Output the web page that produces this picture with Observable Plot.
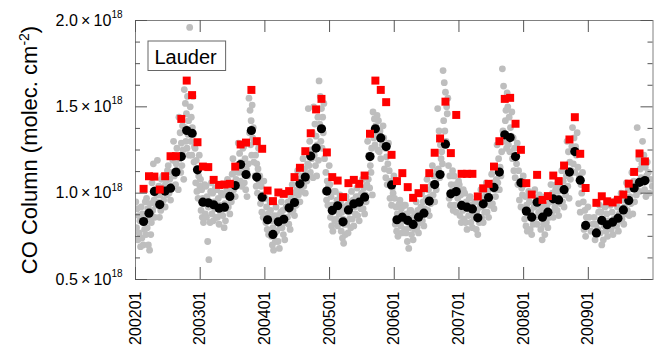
<!DOCTYPE html>
<html>
<head>
<meta charset="utf-8">
<script src="https://cdn.jsdelivr.net/npm/d3@7"></script>
<script src="https://cdn.jsdelivr.net/npm/@observablehq/plot@0.6"></script>
<style>
  html, body { margin: 0; padding: 0; background: white; }
  svg { display: block; }
</style>
</head>
<body>
<script>
// ---- data (CO total column, units of 1e18 molec. cm^-2), Jan 2002 .. Dec 2009 ----
const firstYear = 2002;
const siteName = "Lauder";
const yAxisTitle = "CO Column (molec. cm";
const yAxisTitleSup = "-2";
const yTicksMajor = [0.5, 1.0, 1.5, 2.0];
const yTickLabels = ["0.5\u2009×\u200910", "1.0\u2009×\u200910", "1.5\u2009×\u200910", "2.0\u2009×\u200910"];
const yTickExponent = "18";
const yTicksMinor = [0.625, 0.75, 0.875, 1.125, 1.25, 1.375, 1.625, 1.75, 1.875];
const xTicks = [2002, 2003, 2004, 2005, 2006, 2007, 2008, 2009];
const xTickLabels = ["200201", "200301", "200401", "200501", "200601", "200701", "200801", "200901"];

// monthly mean of the measurements (black circles)
const obsMonthly = [
  null, 0.836, 0.884, 1.010, 0.934, 1.012, 1.029, 1.122, 1.212, 1.363, 1.347, 1.135,
  0.948, 0.944, 0.933, 0.913, 0.919, 0.981, 1.044, 1.166, 1.108, 1.363, 1.093, 0.977,
  0.846, 0.761, 0.834, 0.849, 0.915, 0.946, 1.054, 1.093, 1.215, 1.261, 1.373, 1.012,
  0.900, 0.927, 0.834, 0.903, 0.938, 0.948, 0.977, 1.212, 1.373, 1.320, 1.270, 1.048,
  0.846, 0.861, 0.842, 0.819, 0.861, 0.884, 0.954, 1.050, 1.108, 1.284, 0.996, 1.009,
  0.929, 0.919, 0.909, 0.857, 0.938, 0.975, 1.033, 1.122, 1.338, 1.322, 1.212, 1.060,
  0.896, 0.861, 0.948, 0.861, 0.890, 0.967, 0.961, 1.020, 1.122, 1.241, 1.075, 0.813,
  null, 0.770, 0.842, 0.817, 0.832, 0.855, 0.903, 0.958, 1.030, 1.063, 1.073, null
];

// monthly model values (red squares)
const modelMonthly = [
  null, 1.025, 1.098, 1.096, 1.021, 1.098, 1.214, 1.214, 1.430, 1.652, 1.568, 1.295,
  1.154, 1.151, 1.077, 1.048, 1.050, 1.054, 1.154, 1.282, 1.293, 1.598, 1.301, 1.257,
  1.015, 0.954, 1.004, 0.996, 1.012, 1.093, 1.147, 1.243, 1.347, 1.485, 1.546, 1.236,
  1.093, 1.073, 0.977, 1.058, 1.077, 1.054, 1.102, 1.344, 1.652, 1.598, 1.527, 1.222,
  1.070, 1.116, 1.035, 0.973, 1.000, 1.029, 1.116, 1.234, 1.317, 1.530, 1.232, 1.453,
  1.112, 1.112, 1.112, 0.981, 1.028, 1.054, 1.154, 1.301, 1.546, 1.552, 1.402, 1.251,
  1.058, 0.992, 1.106, 0.961, 0.983, 1.102, 1.070, 1.160, 1.311, 1.440, 1.228, 1.030,
  null, 0.944, 0.982, 0.953, 0.946, 0.962, 0.992, 1.055, 1.123, 1.230, 1.184, null
];

// individual measurements within each month (grey dots)
const obsDaily = [
  // 2002
  [0.95,0.80,0.91,0.73,0.87,0.77,0.84,0.69], [0.92,0.74,0.88,0.70,0.83,0.79,0.95,0.76],
  [0.97,0.80,0.91,0.70,0.86,0.67,0.94,0.76,0.83], [1.06,0.90,1.17,0.96,0.86,1.02,0.93,0.99],
  [1.19,0.95,1.04,0.86,0.99,0.90,1.08,0.93], [1.10,0.96,1.04,0.92,1.07,0.99,1.13],
  [1.16,1.00,1.08,0.96,1.12,1.04,1.19], [1.30,1.10,1.22,1.05,1.17,1.26,1.13,1.02],
  [1.44,1.20,1.35,1.12,1.29,1.16,1.39,1.25,1.08], [1.60,1.38,1.52,1.30,1.46,1.26,1.56,1.34,1.42,1.22],
  [1.96,1.50,1.30,1.44,1.22,1.38,1.56,1.34,1.18,1.27], [1.26,1.06,1.19,1.01,1.14,0.97,1.10,1.22,1.04],
  // 2003
  [1.08,0.90,1.02,0.86,0.97,0.83,0.94,1.05,0.88], [1.04,0.86,0.98,0.72,0.92,0.615,0.95,0.83,1.01],
  [1.06,0.88,1.00,0.84,0.95,0.91,1.03,0.86], [1.02,0.86,0.97,0.82,0.93,0.89,1.00],
  [1.05,0.87,0.99,0.80,0.94,0.84,0.91,1.02], [1.08,0.92,1.03,0.88,0.98,0.95,1.11],
  [1.20,1.02,1.12,0.98,1.08,1.05,1.16], [1.29,1.12,1.23,1.07,1.18,1.04,1.15,1.26],
  [1.27,1.06,1.20,1.02,1.14,0.98,1.10,1.17], [1.55,1.35,1.48,1.28,1.42,1.22,1.51,1.32,1.38,1.18],
  [1.30,1.10,1.22,1.04,1.17,1.00,1.14,1.26,1.07], [1.10,0.94,1.04,0.89,0.99,0.86,1.07,0.97],
  // 2004
  [0.97,0.83,0.92,0.79,0.88,0.76,0.85,0.95], [0.90,0.75,0.84,0.70,0.80,0.67,0.87,0.77,0.72],
  [0.92,0.78,0.87,0.72,0.83,0.68,0.80,0.89], [0.95,0.80,0.90,0.76,0.86,0.73,0.83,0.92],
  [1.00,0.86,0.95,0.82,0.92,0.79,0.89,0.97], [1.05,0.90,1.00,0.87,0.96,0.93,1.02],
  [1.13,0.99,1.08,0.95,1.04,1.01,1.10], [1.20,1.04,1.14,1.00,1.10,1.07,1.17],
  [1.49,1.16,1.30,1.12,1.25,1.20,1.35,1.09], [1.50,1.22,1.40,1.16,1.33,1.10,1.28,1.44,1.19],
  [1.65,1.40,1.56,1.30,1.49,1.26,1.44,1.35,1.52], [1.20,1.01,1.12,0.96,1.07,0.93,1.04,1.16],
  // 2005
  [1.05,0.86,0.98,0.81,0.93,0.78,0.90,1.01,0.84], [1.01,0.85,0.96,0.81,0.92,0.88,0.99],
  [0.95,0.78,0.89,0.74,0.85,0.71,0.82,0.92,0.76], [0.98,0.82,0.93,0.77,0.89,0.85,0.95,0.80],
  [1.01,0.85,0.96,0.81,0.92,0.88,0.98], [1.03,0.87,0.98,0.84,0.94,0.91,1.00],
  [1.08,0.91,1.03,0.88,0.99,0.95,1.05], [1.30,1.08,1.22,1.03,1.16,1.12,1.26,0.99],
  [1.47,1.32,1.43,1.28,1.39,1.35,1.45,1.25], [1.42,1.24,1.36,1.20,1.31,1.28,1.39],
  [1.32,1.14,1.26,1.09,1.21,1.05,1.17,1.29], [1.13,0.97,1.07,0.93,1.03,1.00,1.10],
  // 2006
  [0.97,0.82,0.92,0.78,0.88,0.75,0.85,0.94], [0.96,0.81,0.91,0.77,0.87,0.84,0.93,0.79],
  [0.93,0.77,0.88,0.72,0.84,0.68,0.80,0.90], [0.90,0.76,0.86,0.73,0.82,0.79,0.88],
  [0.95,0.80,0.90,0.77,0.86,0.83,0.92], [1.00,0.84,0.95,0.81,0.91,0.88,0.97],
  [1.08,0.90,1.02,0.87,0.98,0.94,1.05], [1.16,0.99,1.10,0.95,1.06,1.02,1.13],
  [1.49,1.14,1.36,1.09,1.28,1.20,1.24,1.17], [1.71,1.42,1.64,1.36,1.585,1.30,1.50,1.46,1.55],
  [1.16,0.97,1.10,0.93,1.05,1.01,1.13,0.90], [1.10,0.93,1.05,0.89,1.00,0.97,1.07],
  // 2007
  [1.05,0.87,0.99,0.83,0.94,0.90,1.02,0.85], [1.00,0.83,0.95,0.79,0.91,0.87,0.97],
  [0.98,0.83,0.93,0.80,0.89,0.86,0.95], [0.95,0.79,0.90,0.76,0.86,0.83,0.92],
  [1.02,0.86,0.97,0.83,0.93,0.89,0.99], [1.06,0.89,1.01,0.86,0.97,0.93,1.03],
  [1.11,0.94,1.06,0.91,1.02,0.98,1.08], [1.28,1.06,1.20,1.02,1.15,1.10,1.24],
  [1.72,1.36,1.62,1.30,1.55,1.42,1.48,1.26,1.58], [1.50,1.28,1.44,1.24,1.38,1.33,1.47,1.20],
  [1.32,1.13,1.26,1.09,1.21,1.17,1.29,1.05], [1.13,0.96,1.07,0.92,1.03,0.99,1.10],
  // 2008
  [1.05,0.85,0.98,0.81,0.93,0.78,0.89,1.01], [0.95,0.79,0.90,0.76,0.86,0.82,0.92],
  [1.02,0.86,0.97,0.82,0.93,0.89,0.99], [0.95,0.79,0.90,0.73,0.86,0.82,0.92,0.76],
  [0.98,0.83,0.93,0.80,0.89,0.86,0.95], [1.05,0.89,1.00,0.86,0.96,0.92,1.02],
  [1.05,0.90,1.01,0.87,0.97,0.94,1.03], [1.13,0.95,1.07,0.92,1.03,0.99,1.10],
  [1.30,1.04,1.24,0.97,1.18,1.08,1.13,1.27], [1.38,1.17,1.32,1.12,1.27,1.22,1.35],
  [1.15,0.94,1.10,0.89,1.05,1.00,1.12], [0.95,0.79,0.90,0.75,0.86,0.82,0.92],
  // 2009
  [0.86,0.78,0.82], [0.86,0.73,0.82,0.76,0.79,0.89],
  [0.93,0.77,0.89,0.70,0.85,0.73,0.81], [0.92,0.78,0.88,0.75,0.84,0.81],
  [0.93,0.79,0.89,0.76,0.85,0.82], [0.96,0.81,0.92,0.78,0.88,0.84],
  [1.00,0.85,0.96,0.82,0.92,0.88], [1.06,0.90,1.02,0.87,0.98,0.94],
  [1.12,0.88,1.07,0.95,1.03,0.99], [1.38,1.05,1.20,1.01,1.14,1.09,1.17],
  [1.30,1.06,1.22,1.02,1.15,0.98,1.10,1.18], [1.12,1.00,1.08,1.04]
];

// ---- tables built from the arrays ----
const monthTime = k => firstYear + Math.floor(k / 12) + ((k % 12) + 0.5) / 12;
const monthly = obsMonthly.map((v, k) => ({t: monthTime(k), obs: v, model: modelMonthly[k]}));
const daily = obsDaily.flatMap((vals, k) =>
  vals.map((v, i) => ({t: firstYear + Math.floor(k / 12) + ((k % 12) + (i + 0.5) / vals.length) / 12, v})));

const frameW = 654 - 135 - 1.5;
const frameH = 349 - 20 - 70;

const chart = Plot.plot({
  width: 654,
  height: 349,
  marginLeft: 135,
  marginRight: 1.5,
  marginTop: 20,
  marginBottom: 70,
  style: {fontFamily: "'Liberation Sans', Arial, Helvetica, sans-serif", background: "white", color: "black"},
  x: {domain: [2002, 2010]},
  y: {domain: [0.5, 2.0]},
  marks: [
    Plot.dot(daily, {x: "t", y: "v", r: 3.4, fill: "#bebebe", clip: true}),
    Plot.dot(monthly.filter(d => d.obs != null), {x: "t", y: "obs", r: 4.6, fill: "black"}),
    Plot.dot(monthly.filter(d => d.model != null), {x: "t", y: "model", symbol: "square", r: 4.5, fill: "#ff0000"}),
    Plot.frame({stroke: "#808080"}),
    Plot.tickX(xTicks, {x: d => d, insetTop: frameH - 12, stroke: "#555"}),
    Plot.tickX(xTicks, {x: d => d, insetBottom: frameH - 12, stroke: "#555"}),
    Plot.tickY(yTicksMajor, {y: d => d, insetRight: frameW - 12, stroke: "#555"}),
    Plot.tickY(yTicksMajor, {y: d => d, insetLeft: frameW - 12, stroke: "#555"}),
    Plot.tickY(yTicksMinor, {y: d => d, insetRight: frameW - 5, stroke: "#555"}),
    Plot.tickY(yTicksMinor, {y: d => d, insetLeft: frameW - 5, stroke: "#555"}),
    Plot.axisX({ticks: xTicks, tickSize: 0, tickPadding: 12, tickRotate: -90, fontSize: 16,
      tickFormat: d => xTickLabels[xTicks.indexOf(d)], label: null}),
    Plot.axisY({ticks: yTicksMajor, tickSize: 0, tickPadding: 13, fontSize: 16,
      tickFormat: d => yTickLabels[yTicksMajor.indexOf(d)], label: null}),
    Plot.text([yAxisTitle], {text: d => d, frameAnchor: "left", textAnchor: "middle", dx: -106, rotate: -90,
      fontSize: 22}),
    Plot.text([siteName], {text: d => d, frameAnchor: "top-left", dx: 19, dy: 43, lineAnchor: "bottom",
      textAnchor: "start", fontSize: 20})
  ]
});

document.body.appendChild(chart);

// superscripts on the y tick labels and the y title
d3.select(chart).selectAll('g[aria-label="y-axis tick label"] text').each(function () {
  d3.select(this).append("tspan").attr("dy", -7.5).attr("font-size", 10).text(yTickExponent);
});
const allTexts = Array.from(chart.querySelectorAll("text"));
const titleText = allTexts.find(t => t.textContent === yAxisTitle);
if (titleText) {
  const t = d3.select(titleText);
  t.text("");
  t.append("tspan").text(yAxisTitle);
  t.append("tspan").attr("dy", -8).attr("font-size", 14).text(yAxisTitleSup);
  t.append("tspan").attr("dy", 8).text(")");
}

// box around the site name
const siteText = allTexts.find(t => t.textContent === siteName);
if (siteText) {
  const sr = chart.getBoundingClientRect();
  const tr = siteText.getBoundingClientRect();
  const g = siteText.parentNode;
  d3.select(chart).insert("rect", () => g)
    .attr("x", tr.left - sr.left - 6.5)
    .attr("y", tr.top - sr.top - 4.5)
    .attr("width", tr.width + 15)
    .attr("height", tr.height + 7.5)
    .attr("fill", "white")
    .attr("stroke", "#666");
}
</script>
</body>
</html>
